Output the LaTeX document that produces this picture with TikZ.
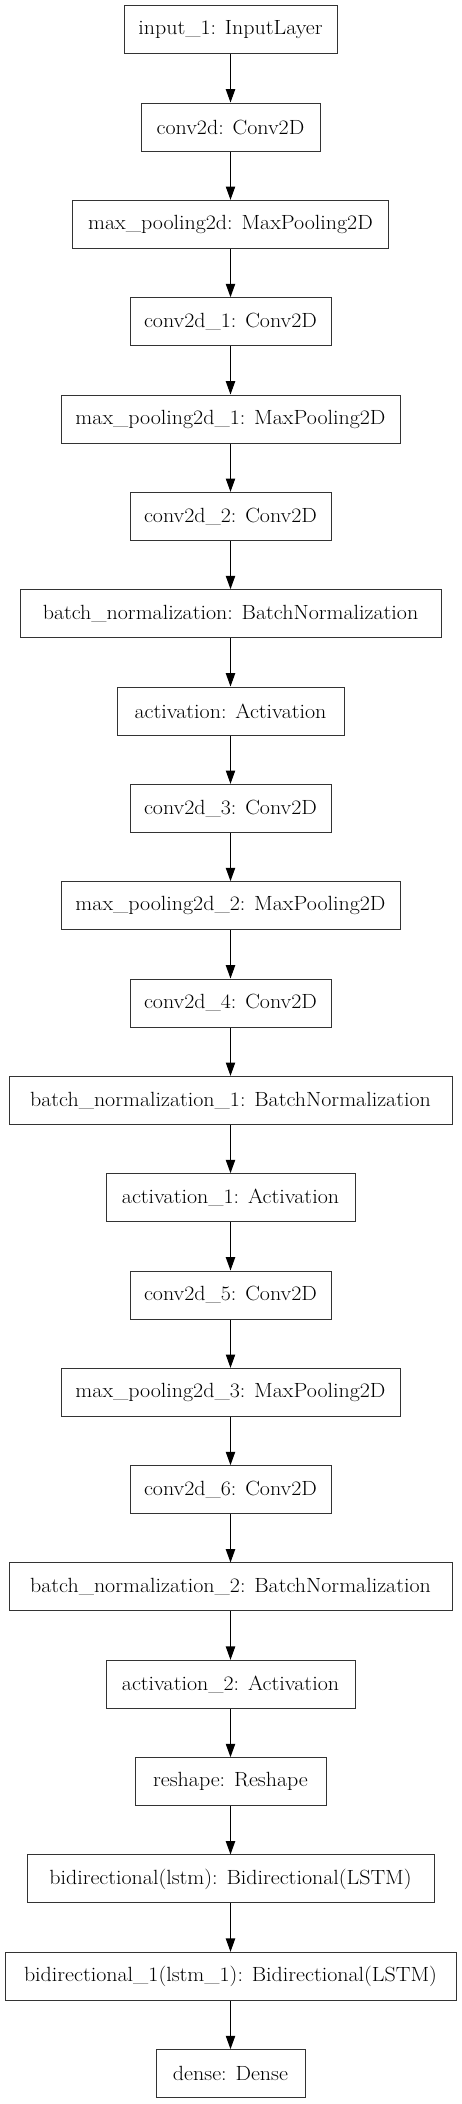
\documentclass[tikz,border=0pt]{standalone}
\usepackage{fontspec}
\setmainfont[FakeStretch=1.07]{Latin Modern Roman}
\usetikzlibrary{arrows.meta}
\begin{document}
\begin{tikzpicture}[x=0.75pt,y=-0.75pt,
  layerbox/.style={draw=black!80, line width=0.75pt, rectangle, inner sep=0pt,
    minimum height=36pt, font=\fontsize{15.4pt}{17pt}\selectfont, fill=white},
  arr/.style={draw=black, line width=0.8pt, -{Triangle[length=10pt,width=7pt]}}]
\useasboundingbox[fill=white] (0,0) rectangle (461,2104);
\foreach \lab/\w [count=\i from 0] in {
  input\_1: InputLayer/213,
  conv2d: Conv2D/179,
  max\_pooling2d: MaxPooling2D/316,
  conv2d\_1: Conv2D/201,
  max\_pooling2d\_1: MaxPooling2D/339,
  conv2d\_2: Conv2D/201,
  batch\_normalization: BatchNormalization/421,
  activation: Activation/227,
  conv2d\_3: Conv2D/201,
  max\_pooling2d\_2: MaxPooling2D/339,
  conv2d\_4: Conv2D/201,
  batch\_normalization\_1: BatchNormalization/443,
  activation\_1: Activation/249,
  conv2d\_5: Conv2D/201,
  max\_pooling2d\_3: MaxPooling2D/339,
  conv2d\_6: Conv2D/201,
  batch\_normalization\_2: BatchNormalization/443,
  activation\_2: Activation/249,
  reshape: Reshape/191,
  bidirectional(lstm): Bidirectional(LSTM)/407,
  bidirectional\_1(lstm\_1): Bidirectional(LSTM)/451,
  dense: Dense/149}
{
  \node[layerbox, minimum width={\w*0.75pt}] (n\i) at (230.5,{29.7+97.33*\i}) {\lab};
}
\foreach \i in {0,...,20} {
  \pgfmathtruncatemacro{\j}{\i+1}
  \draw[arr] (n\i.south) -- (n\j.north);
}
\end{tikzpicture}
\end{document}
